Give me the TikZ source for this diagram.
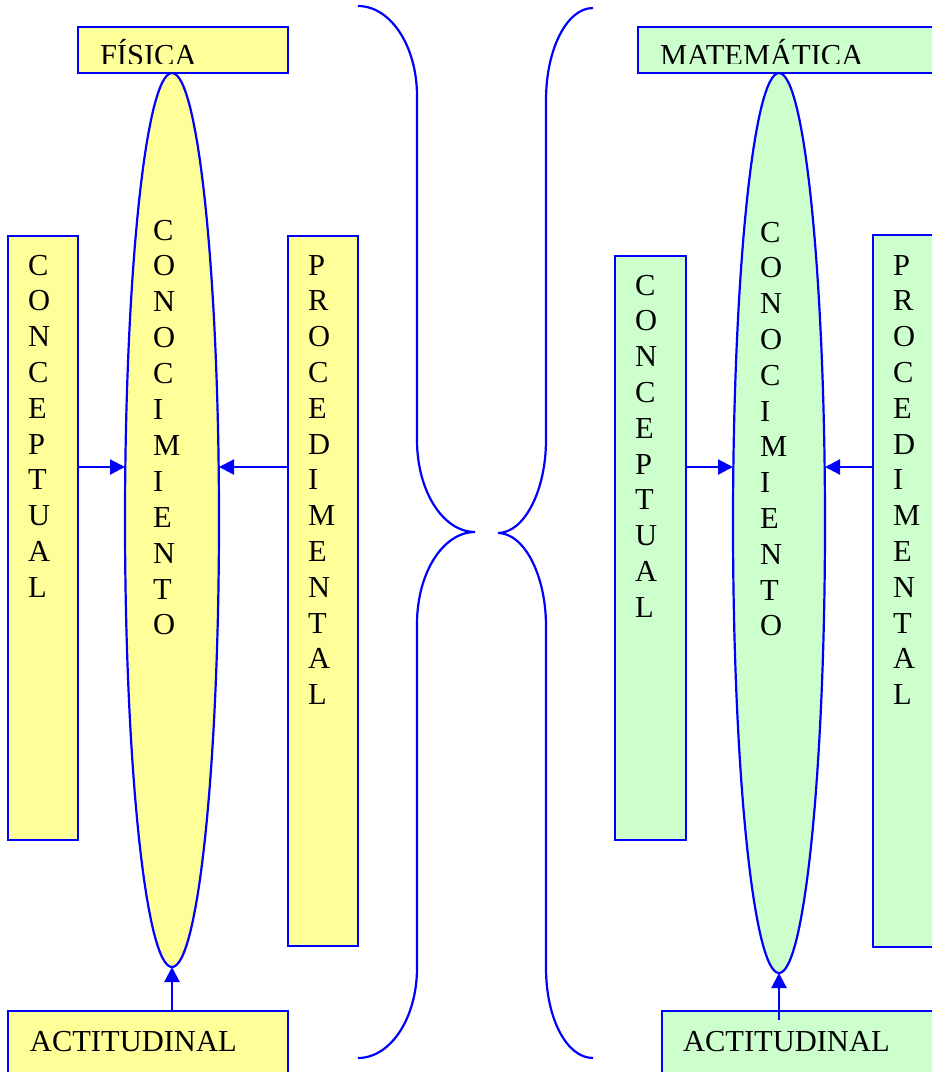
\documentclass[tikz,border=0pt]{standalone}
\usepackage{fontspec}
\setmainfont{Liberation Serif}
\usetikzlibrary{shapes.geometric,arrows.meta,calc}
\definecolor{fyel}{HTML}{FFFF99}
\definecolor{fgrn}{HTML}{CCFFCC}
\begin{document}
\begin{tikzpicture}[x=1pt,y=-1pt,
  box/.style={draw=blue,line width=2.2pt,rectangle,inner sep=0pt,outer sep=0pt,anchor=north west},
  oval/.style={draw=blue,line width=2.2pt,ellipse,inner sep=0pt,outer sep=0pt},
  letter/.style={inner sep=0pt,outer sep=0pt,anchor=base west,font=\fontsize{30.5}{36}\selectfont},
  arr/.style={draw=blue,line width=2.2pt,-{Triangle[length=15pt,width=15pt]}},
  brace/.style={draw=blue,line width=2.2pt}]
\useasboundingbox (0,0) rectangle (932,1072);
\clip (0,0) rectangle (932,1072);
% ---------- left (FISICA) ----------
\node[box,fill=fyel,minimum width=210pt,minimum height=46pt] (ltitle) at (78,27) {};
\begin{scope}
\clip (79,28) rectangle (287,63);
\node[letter] (ltitletext) at (100,65.5) {FÍSICA};
\end{scope}
\node[box,fill=fyel,minimum width=70pt,minimum height=604pt] (lconc) at (8,236) {};
\node[box,fill=fyel,minimum width=70pt,minimum height=710pt] (lproc) at (288,236) {};
\node[box,fill=fyel,minimum width=280pt,minimum height=100pt] (lact) at (8,1011) {};
\node[oval,fill=fyel,minimum width=94pt,minimum height=894pt] (lell) at (172,520) {};
\coordinate (ay) at (0,467);
\foreach \ch [count=\i from 0] in {C,O,N,C,E,P,T,U,A,L}
  \node[letter] (lc\i) at (28,{275+\i*35.8}) {\ch};
\foreach \ch [count=\i from 0] in {C,O,N,O,C,I,M,I,E,N,T,O}
  \node[letter] (le\i) at (153,{240+\i*35.9}) {\ch};
\foreach \ch [count=\i from 0] in {P,R,O,C,E,D,I,M,E,N,T,A,L}
  \node[letter] (lp\i) at (308,{275+\i*35.8}) {\ch};
\node[letter] (lacttext) at (30,1051) {ACTITUDINAL};
\draw[arr] (lconc.east |- ay) -- (lell.west |- ay);
\draw[arr] (lproc.west |- ay) -- (lell.east |- ay);
\draw[arr] (lell.south |- lact.north) -- (lell.south);
% ---------- right (MATEMATICA) ----------
\node[box,fill=fgrn,minimum width=400pt,minimum height=46pt] (rtitle) at (638,27) {};
\begin{scope}
\clip (639,28) rectangle (940,63);
\node[letter] (rtitletext) at (660,65.5) {MATEMÁTICA};
\end{scope}
\node[box,fill=fgrn,minimum width=71pt,minimum height=584pt] (rconc) at (615,256) {};
\node[box,fill=fgrn,minimum width=100pt,minimum height=712pt] (rproc) at (873,235) {};
\node[box,fill=fgrn,minimum width=300pt,minimum height=100pt] (ract) at (662,1011) {};
\node[oval,fill=fgrn,minimum width=92pt,minimum height=900pt] (rell) at (779,523) {};
\foreach \ch [count=\i from 0] in {C,O,N,C,E,P,T,U,A,L}
  \node[letter] (rc\i) at (635,{295+\i*35.8}) {\ch};
\foreach \ch [count=\i from 0] in {C,O,N,O,C,I,M,I,E,N,T,O}
  \node[letter] (re\i) at (760,{242+\i*35.8}) {\ch};
\foreach \ch [count=\i from 0] in {P,R,O,C,E,D,I,M,E,N,T,A,L}
  \node[letter] (rp\i) at (893,{275+\i*35.8}) {\ch};
\node[letter] (racttext) at (683,1051) {ACTITUDINAL};
\draw[arr] (rconc.east |- ay) -- (rell.west |- ay);
\draw[arr] (rproc.west |- ay) -- (rell.east |- ay);
\draw[arr] ($(rell.south |- ract.north)+(0,9)$) -- (rell.south);
% ---------- braces ----------
\draw[brace] (358,6) .. controls (390.6,6) and (417,46) .. (417,96) -- (417,440)
  .. controls (417,491) and (443,532) .. (475,532)
  .. controls (443,532) and (417,573) .. (417,624) -- (417,968)
  .. controls (417,1018) and (390.6,1058) .. (358,1058);
\draw[brace] (593,8) .. controls (566.5,8) and (546,50) .. (546,100) -- (546,440)
  .. controls (546,491) and (524,533) .. (498,533)
  .. controls (524,533) and (546,575) .. (546,626) -- (546,968)
  .. controls (546,1018) and (566.5,1058) .. (593,1058);
\end{tikzpicture}
\end{document}
